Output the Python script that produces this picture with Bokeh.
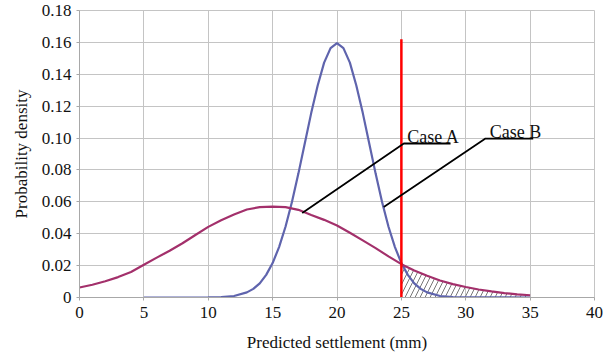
from bokeh.plotting import figure
from bokeh.models import Range1d, FixedTicker, ColumnDataSource
from bokeh.core.properties import value
from bokeh.embed import file_html
from bokeh.resources import INLINE

# ---- data ----
blue_x = [5, 10, 11, 12, 13, 13.5, 14, 14.5, 15, 15.5, 16, 16.5, 17, 17.5, 18, 18.5, 19, 19.5,
          20, 20.5, 21, 21.5, 22, 22.5, 23, 23.5, 24, 24.5, 25, 25.5, 26, 26.5, 27, 28, 29, 30, 35]
blue_y = [0, 0.0001, 0.0003, 0.0009, 0.0032, 0.0054, 0.0089, 0.0142, 0.0216, 0.0316, 0.0444,
          0.0599, 0.0777, 0.0968, 0.1158, 0.1330, 0.1473, 0.1564, 0.1596, 0.1564, 0.1473,
          0.1330, 0.1158, 0.0968, 0.0777, 0.0599, 0.0444, 0.0316, 0.0216, 0.0142, 0.0089,
          0.0054, 0.0032, 0.0009, 0.0003, 0.0001, 0]

purple_x = [0, 1, 2, 3, 4, 5, 6, 7, 8, 9, 10, 11, 12, 13, 14, 15, 16, 17, 18, 19, 20, 21, 22,
            23, 24, 25, 26, 27, 28, 29, 30, 31, 32, 33, 34, 35]
purple_y = [0.0063, 0.0080, 0.0102, 0.0128, 0.0160, 0.0205, 0.0250, 0.0293, 0.0340, 0.0392,
            0.0443, 0.0485, 0.0520, 0.0552, 0.0567, 0.0570, 0.0567, 0.0550, 0.0518, 0.0487,
            0.0452, 0.0406, 0.0358, 0.0310, 0.0258, 0.0209, 0.0170, 0.0136, 0.0107, 0.0084,
            0.0066, 0.0050, 0.0038, 0.0028, 0.0020, 0.0014]

limit_x = 25
limit_top = 0.162

case_a_line_x = [17.3, 25.19, 28.82]
case_a_line_y = [0.0530, 0.0966, 0.0966]
case_b_line_x = [23.63, 31.53, 35.24]
case_b_line_y = [0.0568, 0.0997, 0.0997]
case_labels = ["Case A", "Case B"]
case_label_x = [25.45, 31.87]
case_label_y = [0.1008, 0.1040]

x_ticks = [0, 5, 10, 15, 20, 25, 30, 35, 40]
y_ticks = [0, 0.02, 0.04, 0.06, 0.08, 0.10, 0.12, 0.14, 0.16, 0.18]
y_tick_labels = ["0", "0.02", "0.04", "0.06", "0.08", "0.10", "0.12", "0.14", "0.16", "0.18"]

FONT = "Liberation Serif"
GRID = "#c4c4c4"
AXIS = "#a8a8a8"

p = figure(width=612, height=359, output_backend="svg", toolbar_location=None,
           x_range=Range1d(0, 40), y_range=Range1d(0, 0.18),
           min_border_left=79, min_border_right=18, min_border_top=10, min_border_bottom=62)
p.background_fill_color = "white"
p.border_fill_color = "white"
p.outline_line_color = GRID
p.outline_line_width = 1

p.xgrid.grid_line_color = GRID
p.ygrid.grid_line_color = GRID
p.xgrid.grid_line_width = 1
p.ygrid.grid_line_width = 1

p.xaxis.ticker = FixedTicker(ticks=x_ticks)
p.yaxis.ticker = FixedTicker(ticks=y_ticks)
p.yaxis.major_label_overrides = {t: l for t, l in zip(y_ticks, y_tick_labels)}
p.xaxis.major_label_overrides = {t: str(t) for t in x_ticks}

for ax in (p.xaxis[0], p.yaxis[0]):
    ax.axis_line_color = AXIS
    ax.major_tick_line_color = AXIS
    ax.minor_tick_line_color = None
    ax.major_tick_out = 3
    ax.major_tick_in = 0
    ax.major_label_text_font = FONT
    ax.major_label_text_font_size = "17px"
    ax.major_label_text_color = "#111111"
    ax.axis_label_text_font = FONT
    ax.axis_label_text_font_size = "17px"
    ax.axis_label_text_font_style = "normal"
    ax.axis_label_text_color = "#111111"

p.xaxis.major_label_standoff = 6
p.xaxis.axis_label_standoff = 12
p.yaxis.major_label_standoff = 5
p.yaxis.axis_label_standoff = 8
p.xaxis.axis_label = "Predicted settlement (mm)"
p.yaxis.axis_label = "Probability density"

# hatched tail area under the purple curve beyond the limit
tail_x = [x for x in purple_x if x >= limit_x]
tail_y = [y for x, y in zip(purple_x, purple_y) if x >= limit_x]
p.varea(x=tail_x, y1=[0] * len(tail_x), y2=tail_y, fill_color=None, fill_alpha=0,
        hatch_pattern="/", hatch_color="#777777", hatch_weight=1, hatch_scale=10, hatch_alpha=1)

p.line(blue_x, blue_y, line_color="#5f64ad", line_width=2.2)
p.line(purple_x, purple_y, line_color="#a3306b", line_width=2.2)

p.segment(x0=[limit_x], y0=[0], x1=[limit_x], y1=[limit_top], line_color="#ff0000", line_width=2.5)

p.line(case_a_line_x, case_a_line_y, line_color="black", line_width=1.8)
p.line(case_b_line_x, case_b_line_y, line_color="black", line_width=1.8)

src = ColumnDataSource(dict(x=case_label_x, y=case_label_y, t=case_labels))
p.text(x="x", y="y", text="t", source=src, text_font=value(FONT), text_font_size="18px",
       text_baseline="alphabetic", text_align="left", text_color="#111111")

open("out.html", "w").write(file_html(p, INLINE))
